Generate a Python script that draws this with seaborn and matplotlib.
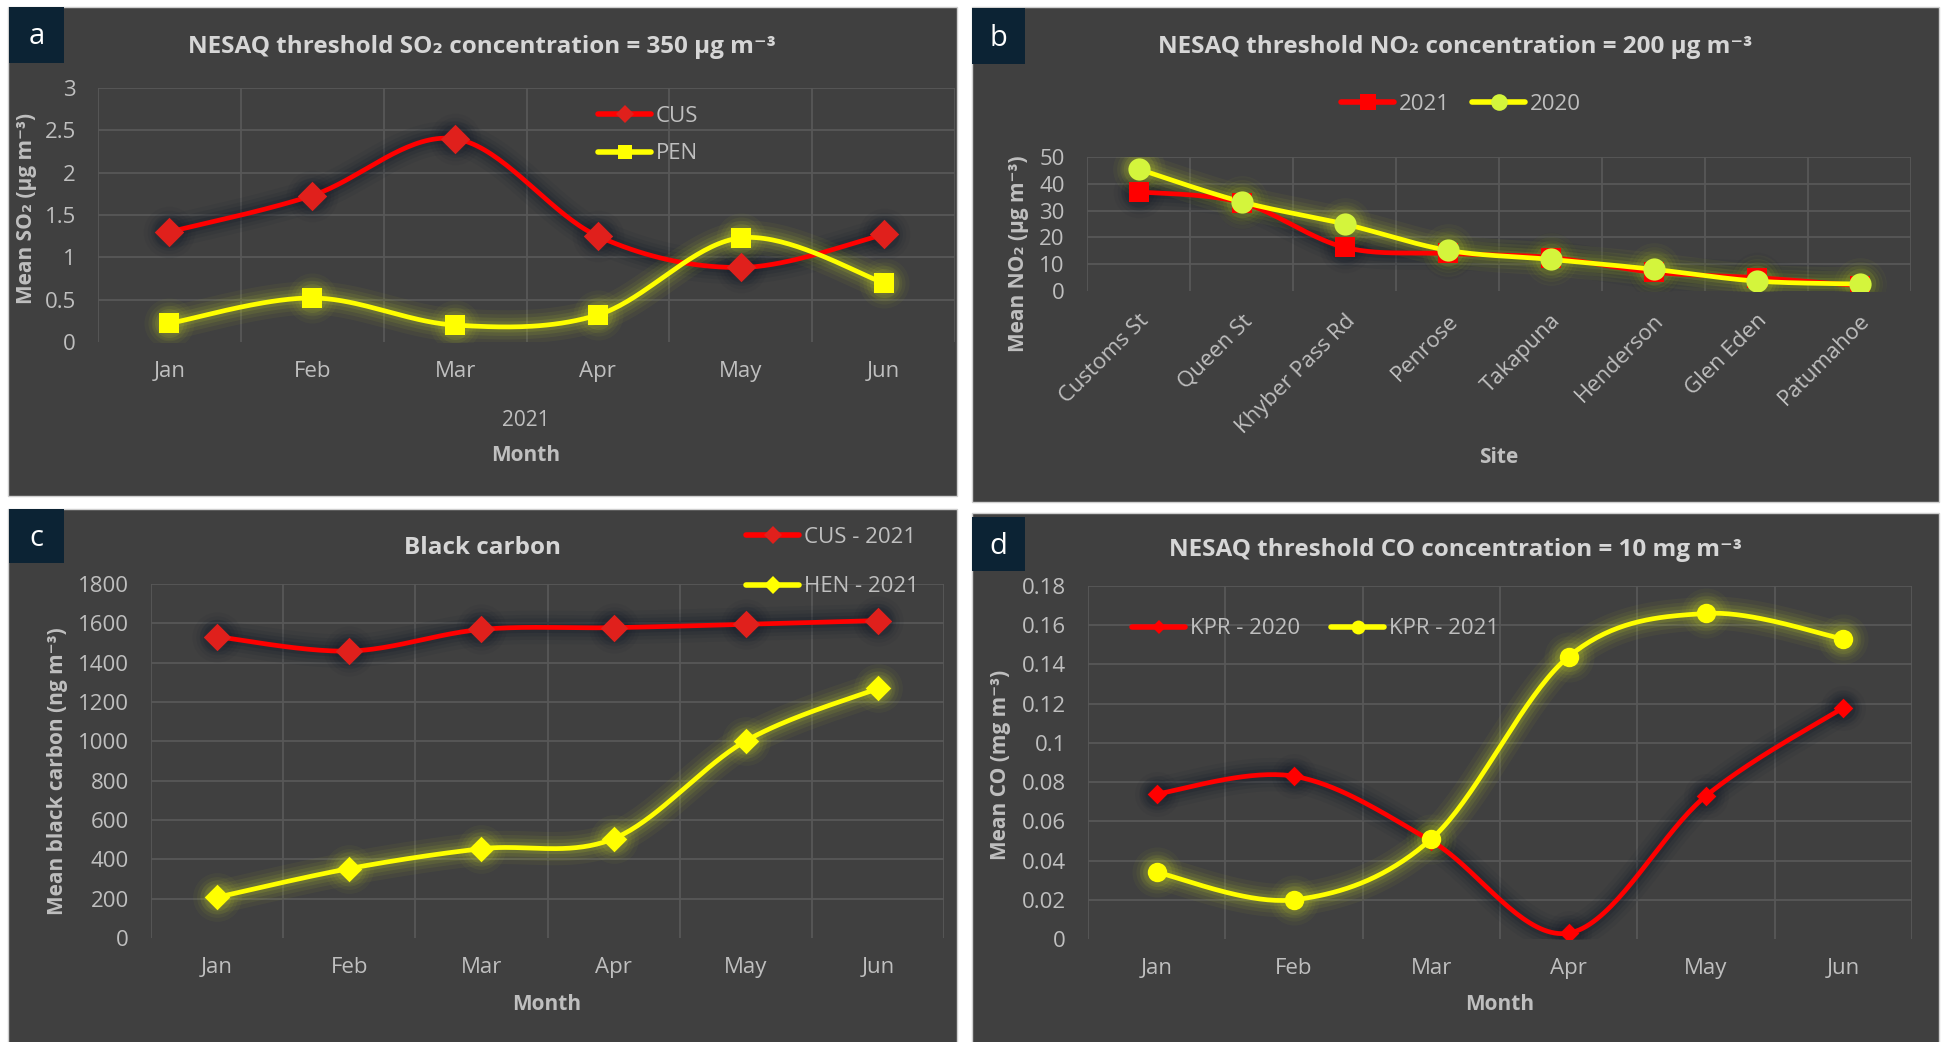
import numpy as np
import pandas as pd
import matplotlib
matplotlib.use("Agg")
import matplotlib.pyplot as plt
from matplotlib.patches import Rectangle
from matplotlib.lines import Line2D
import seaborn as sns

# ---------------- data ----------------
months = ["Jan", "Feb", "Mar", "Apr", "May", "Jun"]

so2_cus = [1.30, 1.73, 2.40, 1.25, 0.88, 1.27]
so2_pen = [0.22, 0.52, 0.20, 0.32, 1.23, 0.70]
so2_ticks = [0, 0.5, 1, 1.5, 2, 2.5, 3]
so2_ticklabels = ["0", "0.5", "1", "1.5", "2", "2.5", "3"]

sites = ["Customs St", "Queen St", "Khyber Pass Rd", "Penrose", "Takapuna",
         "Henderson", "Glen Eden", "Patumahoe"]
no2_2021 = [37.0, 33.0, 16.3, 14.0, 12.5, 7.0, 5.0, 2.0]
no2_2020 = [45.5, 33.3, 25.0, 15.2, 11.8, 8.1, 3.7, 2.6]
no2_ticks = [0, 10, 20, 30, 40, 50]
no2_ticklabels = ["0", "10", "20", "30", "40", "50"]

bc_cus = [1532, 1459, 1569, 1578, 1595, 1614]
bc_hen = [207, 353, 454, 505, 1002, 1269]
bc_ticks = [0, 200, 400, 600, 800, 1000, 1200, 1400, 1600, 1800]
bc_ticklabels = [str(v) for v in bc_ticks]

co_2020 = [0.074, 0.083, 0.050, 0.003, 0.073, 0.118]
co_2021 = [0.034, 0.020, 0.051, 0.144, 0.166, 0.153]
co_ticks = [0, 0.02, 0.04, 0.06, 0.08, 0.10, 0.12, 0.14, 0.16, 0.18]
co_ticklabels = ["0", "0.02", "0.04", "0.06", "0.08", "0.1", "0.12", "0.14", "0.16", "0.18"]

# ---------------- style ----------------
sns.set_theme(style="dark")
plt.rcParams["font.family"] = ["Open Sans", "DejaVu Sans"]

W, H = 1944, 1042
BG = "#404040"
GRID = "#585858"
TICK = "#bfbfbf"
TITLE = "#d6d6d6"
RED = "#ff0000"
RED_MK = "#e0201c"
YEL = "#ffff00"
YEL_MK = "#d4f53c"
RED_GLOW = "#141c2a"
YEL_GLOW = "#b8c82a"
FONT = ["Open Sans", "DejaVu Sans"]

fig = plt.figure(figsize=(W / 100, H / 100), dpi=100, facecolor="white")


def fx(px):
    return px / W


def fy(py):
    return 1 - py / H


def panel(l, t, r, b):
    fig.patches.append(Rectangle((fx(l), fy(b)), fx(r - l), (b - t) / H,
                                 transform=fig.transFigure, facecolor=BG,
                                 edgecolor="#cfcfcf", lw=1.0, zorder=-5))


def tag(l, t, r, b, letter):
    fig.patches.append(Rectangle((fx(l), fy(b)), fx(r - l), (b - t) / H,
                                 transform=fig.transFigure, facecolor="#0c2334",
                                 edgecolor="none", zorder=1))
    fig.text(fx((l + r) / 2), fy((t + b) / 2 + 2), letter, color="white",
             fontsize=21, ha="center", va="center", family=FONT, zorder=2)


def make_axes(l, t, r, b):
    ax = fig.add_axes([fx(l), fy(b), fx(r - l), (b - t) / H])
    ax.set_facecolor("none")
    for s in ax.spines.values():
        s.set_visible(False)
    return ax


def smooth(y, n=40):
    """Cubic Bezier smoothing through every point (Catmull-Rom tangents)."""
    pts = np.column_stack([np.arange(len(y), dtype=float), np.asarray(y, float)])
    segs = []
    t = np.linspace(0, 1, n)[:, None]
    for i in range(len(pts) - 1):
        p0 = pts[i - 1] if i > 0 else pts[i]
        p1, p2 = pts[i], pts[i + 1]
        p3 = pts[i + 2] if i + 2 < len(pts) else pts[i + 1]
        c1 = p1 + (p2 - p0) / 6
        c2 = p2 - (p3 - p1) / 6
        seg = (1 - t) ** 3 * p1 + 3 * (1 - t) ** 2 * t * c1 + 3 * (1 - t) * t ** 2 * c2 + t ** 3 * p2
        segs.append(seg if i == 0 else seg[1:])
    return np.vstack(segs)


def series(ax, values, color, mcolor, marker, msize, glow, strength=1.0):
    curve = smooth(values)
    # soft glow under the line
    for w, a in [(24, 0.06), (18, 0.08), (13, 0.11), (8, 0.16)]:
        ax.plot(curve[:, 0], curve[:, 1], color=glow, lw=w, alpha=a * strength,
                solid_capstyle="round", zorder=2)
        ax.scatter(np.arange(len(values)), values, s=(msize + w) ** 2 * 0.9,
                   color=glow, alpha=a * 0.8 * strength, marker="o",
                   linewidths=0, zorder=2)
    df = pd.DataFrame({"x": curve[:, 0], "y": curve[:, 1]})
    sns.lineplot(data=df, x="x", y="y", ax=ax, color=color, lw=3.4,
                 sort=False, estimator=None, zorder=3)
    pts = pd.DataFrame({"x": np.arange(len(values)), "y": values})
    sns.scatterplot(data=pts, x="x", y="y", ax=ax, color=mcolor, marker=marker,
                    s=msize ** 2, linewidth=0, zorder=4)


def frame(ax, cats, ticks, ticklabels, rotate=False):
    n = len(cats)
    ax.set_xlim(-0.5, n - 0.5)
    ax.set_ylim(ticks[0], ticks[-1])
    ax.set_xticks(range(n))
    ax.set_xticks(np.arange(-0.5, n, 1.0), minor=True)
    ax.set_yticks(ticks)
    ax.set_yticklabels(ticklabels)
    if rotate:
        ax.set_xticklabels(cats, rotation=45, ha="right", va="top",
                           rotation_mode="anchor")
    else:
        ax.set_xticklabels(cats)
    ax.tick_params(axis="both", which="both", length=0, colors=TICK,
                   labelsize=16)
    ax.tick_params(axis="y", pad=16)
    ax.tick_params(axis="x", pad=14)
    ax.grid(False)
    ax.grid(True, which="minor", axis="x", color=GRID, lw=1.3)
    ax.grid(True, which="major", axis="y", color=GRID, lw=1.3)
    ax.set_axisbelow(True)


def finish(ax):
    ax.set_xlabel("")
    ax.set_ylabel("")
    ax.get_ygridlines()[0].set_visible(False)


def ylabel(x, y, text):
    fig.text(fx(x), fy(y), text, rotation=90, ha="center", va="center",
             color=TICK, fontsize=15, fontweight="bold", family=FONT)


def title(x, y, text):
    fig.text(fx(x), fy(y), text, ha="center", va="center", color=TITLE,
             fontsize=17.5, fontweight="bold", family=FONT)


def xlabel(x, y, text, weight="bold"):
    fig.text(fx(x), fy(y), text, ha="center", va="center", color=TICK,
             fontsize=15, fontweight=weight, family=FONT)


def handle(color, mcolor, marker, ms):
    return Line2D([], [], color=color, lw=4, marker=marker, markersize=ms,
                  markerfacecolor=mcolor, markeredgewidth=0)


def legend(ax, handles, labels, x, y, ncol=1, spacing=0.5, colspace=1.0):
    lg = ax.legend(handles, labels, loc="center left",
                   bbox_to_anchor=(fx(x), fy(y)), bbox_transform=fig.transFigure,
                   ncol=ncol, frameon=False, fontsize=16, handlelength=2.4,
                   handletextpad=0.2, labelspacing=spacing, columnspacing=colspace,
                   borderpad=0, borderaxespad=0)
    for t in lg.get_texts():
        t.set_color(TICK)


# ---------------- panel a : SO2 ----------------
panel(8, 7, 957, 496)
ax = make_axes(98, 88, 955, 342)
frame(ax, months, so2_ticks, so2_ticklabels)
series(ax, so2_cus, RED, RED_MK, "D", 15, RED_GLOW, 1.4)
series(ax, so2_pen, YEL, YEL, "s", 14, YEL_GLOW)
finish(ax)
legend(ax, [handle(RED, RED_MK, "D", 9), handle(YEL, YEL, "s", 10)],
       ["CUS", "PEN"], 598, 135, spacing=0.75)
tag(9, 7, 64, 63, "a")
title(482, 47, "NESAQ threshold SO₂ concentration = 350 µg m⁻³")
ylabel(27, 208, "Mean SO₂ (µg m⁻³)")
xlabel(526, 421, "2021", weight="normal")
xlabel(526, 456, "Month")

# ---------------- panel b : NO2 ----------------
panel(972, 7, 1939, 502)
ax = make_axes(1087, 157, 1911, 291)
frame(ax, sites, no2_ticks, no2_ticklabels, rotate=True)
series(ax, no2_2021, RED, RED, "s", 15, RED_GLOW, 1.4)
series(ax, no2_2020, YEL, YEL_MK, "o", 16, YEL_GLOW)
finish(ax)
legend(ax, [handle(RED, RED, "s", 12), handle(YEL, YEL_MK, "o", 12)],
       ["2021", "2020"], 1341, 104, ncol=2, colspace=1.0)
tag(972, 8, 1025, 64, "b")
title(1455, 47, "NESAQ threshold NO₂ concentration = 200 µg m⁻³")
ylabel(1018, 254, "Mean NO₂ (µg m⁻³)")
xlabel(1499, 457, "Site")

# ---------------- panel c : black carbon ----------------
panel(8, 509, 957, 1050)
ax = make_axes(151, 584, 944, 938)
frame(ax, months, bc_ticks, bc_ticklabels)
series(ax, bc_cus, RED, RED_MK, "D", 14, RED_GLOW, 1.4)
series(ax, bc_hen, YEL, YEL, "D", 13, YEL_GLOW)
finish(ax)
legend(ax, [handle(RED, RED_MK, "D", 9), handle(YEL, YEL, "D", 9)],
       ["CUS - 2021", "HEN - 2021"], 746, 562, spacing=1.3)
tag(9, 509, 64, 563, "c")
title(482, 548, "Black carbon")
ylabel(58, 771, "Mean black carbon (ng m⁻³)")
xlabel(547, 1005, "Month")

# ---------------- panel d : CO ----------------
panel(972, 513, 1939, 1050)
ax = make_axes(1088, 586, 1912, 939)
frame(ax, months, co_ticks, co_ticklabels)
series(ax, co_2020, RED, RED, "D", 10, RED_GLOW, 1.4)
series(ax, co_2021, YEL, YEL, "o", 14, YEL_GLOW)
finish(ax)
legend(ax, [handle(RED, RED, "D", 7), handle(YEL, YEL, "o", 10)],
       ["KPR - 2020", "KPR - 2021"], 1132, 629, ncol=2, colspace=1.4)
tag(972, 517, 1025, 571, "d")
title(1455, 550, "NESAQ threshold CO concentration = 10 mg m⁻³")
ylabel(1000, 765, "Mean CO (mg m⁻³)")
xlabel(1500, 1005, "Month")

fig.savefig("out.png", dpi=100, facecolor="white")
